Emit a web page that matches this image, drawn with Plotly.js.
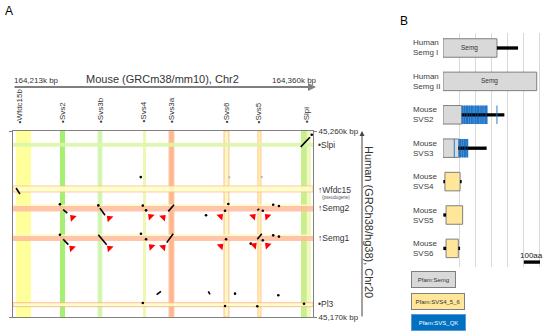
<!DOCTYPE html>
<html><head><meta charset="utf-8">
<script src="https://cdn.plot.ly/plotly-3.0.1.min.js"></script>
<style>html,body{margin:0;padding:0;background:#fff}#chart{width:550px;height:336px}</style>
</head><body><div id="chart"></div>
<script>
// ================= Panel A : dot plot, mouse Chr2 (kbp) vs human Chr20 (kbp) =================
const mouseRange = [164213, 164360];
const humanRange = [45170, 45260];
const mouseTickText = ['164,213k bp', '164,360k bp'];
const humanTickText = ['45,170k bp', '45,260k bp'];

const mouseGenes = ['Wfdc15b', 'Svs2', 'Svs3b', 'Svs4', 'Svs3a', 'Svs6', 'Svs5', 'Slpi'];
const mouseGenePos = [164216.4, 164237.2, 164255.6, 164276.7, 164290.4, 164317.7, 164333.5, 164356.6];
const humanGenes = ['Slpi', 'Wfdc15', 'Semg2', 'Semg1', 'Pl3'];
const humanGenePos = [45253.2, 45231.5, 45222.7, 45208.2, 45176.3];
const humanGeneMark = ['•', '↑', '↑', '↑', '•'];

// gene regions (bands)
const mouseBandStart = [164214.5, 164236.0, 164254.6, 164276.7, 164289.4, 164316.4, 164333.0, 164354.1, 164357.0];
const mouseBandEnd   = [164221.8, 164238.5, 164256.6, 164278.2, 164291.9, 164318.8, 164334.5, 164357.0, 164359.0];
const humanBandStart = [45252.4, 45230.5, 45221.1, 45223.7, 45206.8, 45209.2, 45175.0];
const humanBandEnd   = [45254.3, 45233.4, 45223.7, 45224.4, 45209.2, 45209.9, 45176.9];

// similarity hits: short diagonal runs
const hitX0 = [164214.5, 164237.6, 164255.6, 164289.1, 164354.0, 164237.6, 164254.8, 164288.3, 164283.4, 164308.7, 164332.7, 164332.7];
const hitY0 = [45232.4, 45221.9, 45222.7, 45221.1, 45252.3, 45207.6, 45209.8, 45206.0, 45180.8, 45182.4, 45221.6, 45207.6];
const hitX1 = [164216.4, 164239.6, 164258.1, 164291.9, 164358.5, 164240.1, 164258.9, 164291.5, 164285.5, 164309.5, 164333.7, 164334.9];
const hitY1 = [45229.5, 45220.3, 45219.2, 45224.3, 45257.0, 45205.0, 45205.0, 45210.3, 45182.4, 45181.0, 45222.3, 45210.3];
// isolated dots
const dotX = [164236.0, 164254.8, 164275.6, 164276.6, 164278.2, 164236.0, 164275.7, 164278.2, 164276.6, 164318.5, 164316.9, 164307.6, 164335.4, 164340.5, 164343.3, 164317.4, 164329.5, 164335.4, 164340.5, 164343.3, 164321.8, 164343.0, 164316.9, 164332.7, 164355.6, 164359.4];
const dotY = [45224.5, 45224.0, 45237.7, 45223.9, 45221.6, 45209.8, 45210.3, 45207.6, 45176.8, 45224.7, 45221.4, 45219.2, 45221.4, 45224.3, 45223.7, 45207.6, 45205.5, 45207.1, 45209.5, 45208.9, 45181.3, 45180.5, 45175.3, 45175.2, 45176.4, 45258.2];
const faintX = [164319.0, 164334.9];
const faintY = [45237.6, 45237.7];
// red arrowheads
const arrowX = [164242.2, 164260.2, 164280.4, 164286.6, 164314.7, 164330.7, 164337.6, 164241.8, 164260.3, 164280.8, 164286.6, 164314.8, 164331.2, 164337.7];
const arrowY = [45218.1, 45217.8, 45218.7, 45218.2, 45218.7, 45218.7, 45218.7, 45203.3, 45203.3, 45204.0, 45203.8, 45204.3, 45204.7, 45204.7];
const arrowAngle = [-45, -45, -45, 45, 45, 45, -45, -45, -45, -45, 45, 45, 45, -45];

// ================= Panel B : protein domain structure (aa) =================
const proteinRows = ['Human<br>Semg I', 'Human<br>Semg II', 'Mouse<br>SVS2', 'Mouse<br>SVS3', 'Mouse<br>SVS4', 'Mouse<br>SVS5', 'Mouse<br>SVS6'];
const semgRow = [0, 1, 2, 3];
const semgStart = [0, 0, 0, 0];
const semgEnd = [335, 582, 116, 97];
const svs456Row = [4, 5, 6];
const svs456Start = [12, 19, 19];
const svs456End = [106, 122, 95];
const qkRow = [2, 3];
const qkStart = [116, 97];
const qkEnd = [277, 157];
const tailRow = [0, 2, 3, 4, 4, 5, 6, 6];
const tailStart = [335, 116, 95, 2, 106, 2, 2, 95];
const tailEnd = [466, 381, 271, 12, 116, 19, 19, 106];
const qkRepeatRow = [2,2,2,2,2,2,2,2,2,2,2,2,2,2, 3,3,3,3,3,3];
const qkRepeatPos = [122,132,145,152,165,178,186,200,212,222,236,248,262,272, 101,110,120,132,142,150];
const qkSingleRow = [2, 3];
const qkSinglePos = [335, 70];
const scaleBarLen = 100;

// ---------------- helpers ----------------
const FONT = 'Liberation Sans, Arial, sans-serif';
const P = x => x / 550, Q = y => 1 - y / 336;
const BOXW = 0.554;

const traces = [];
// panel A traces
const hx = [], hy = [];
hitX0.forEach((x, i) => { hx.push(x, hitX1[i], null); hy.push(hitY0[i], hitY1[i], null); });
traces.push({type: 'scatter', mode: 'lines', x: hx, y: hy, line: {color: '#000', width: 1.6}, hoverinfo: 'skip'});
traces.push({type: 'scatter', mode: 'markers', x: dotX, y: dotY, marker: {color: '#000', size: 2.6}, hoverinfo: 'skip'});
traces.push({type: 'scatter', mode: 'markers', x: faintX, y: faintY, marker: {color: '#aaa', size: 2}, hoverinfo: 'skip'});
traces.push({type: 'scatter', mode: 'markers', x: arrowX, y: arrowY,
  marker: {color: '#ff0000', size: 7, symbol: 'triangle-up', angle: arrowAngle}, hoverinfo: 'skip'});

// panel B traces
function hbar(rows, starts, ends, color, lineColor, w) {
  return {type: 'bar', orientation: 'h', xaxis: 'x2', yaxis: 'y2', y: rows,
    base: starts, x: ends.map((e, i) => e - starts[i]), width: w,
    marker: {color: color, line: {color: lineColor || color, width: lineColor ? 1 : 0}}, hoverinfo: 'skip'};
}
traces.push(hbar(semgRow, semgStart, semgEnd, '#d9d9d9', '#7f7f7f', BOXW));
traces.push(hbar(svs456Row, svs456Start, svs456End, '#ffe699', '#7f7f7f', BOXW));
traces.push(hbar(qkRow, qkStart, qkEnd, '#3d8bd6', null, BOXW));
traces.push(hbar(tailRow, tailStart, tailEnd, '#000', null, 0.1));
traces.push(hbar(qkRepeatRow, qkRepeatPos.map(p => p - 1.6), qkRepeatPos.map(p => p + 1.6), '#0a5cb0', null, BOXW));
traces.push(hbar(qkSingleRow, qkSinglePos.map(p => p - 3), qkSinglePos.map(p => p + 3), '#1f78d1', null, BOXW));
traces.push(hbar([6.41], [502], [502 + scaleBarLen], '#000', null, 0.1));

// ---------------- shapes ----------------
const shapes = [];
const vFill = ['#ffff9c', '#a6ef72', '#cff5a8', '#eef8b0', '#ffb68e', '#fff7c0', '#fff2a8', '#c9ef8c', '#f0f8c0'];
const vEdge = [null, null, '#e2f8cc', null, '#ffd0b0', '#ffbe98', '#ffc898', null, null];
mouseBandStart.forEach((s, i) => shapes.push({type: 'rect', xref: 'x', yref: 'y', layer: 'below',
  x0: s, x1: mouseBandEnd[i], y0: humanRange[0], y1: humanRange[1], fillcolor: vFill[i],
  line: {width: vEdge[i] ? 1 : 0, color: vEdge[i] || vFill[i]}}));
const hFill = ['#dcf6a8', '#ffffc4', '#ffbc9e', '#fffbb8', '#ffbc9e', '#fffbb8', '#ffffc4'];
const hEdge = [null, '#ffc29c', null, null, null, null, '#ffb48c'];
humanBandStart.forEach((s, i) => shapes.push({type: 'rect', xref: 'x', yref: 'y', layer: 'below', opacity: 0.88,
  x0: mouseRange[0], x1: mouseRange[1], y0: s, y1: humanBandEnd[i], fillcolor: hFill[i],
  line: {width: hEdge[i] ? 1 : 0, color: hEdge[i] || hFill[i]}}));

// ---------------- annotations ----------------
const ann = [];
const txt = (x, y, text, size, opts) => Object.assign({xref: 'paper', yref: 'paper', x: x, y: y, text: text,
  xanchor: 'center', yanchor: 'middle',
  showarrow: false, font: {family: FONT, size: size, color: '#333'}}, opts || {});
ann.push(txt(P(8.5), Q(11.5), 'A', 12, {font: {family: FONT, size: 12, color: '#000'}}));
ann.push(txt(P(404), Q(21), 'B', 12, {font: {family: FONT, size: 12, color: '#000'}}));
// mouse axis
ann.push({xref: 'paper', yref: 'paper', x: P(316), y: Q(87), ax: -303, ay: 0, text: '', showarrow: true,
  xanchor: 'center', yanchor: 'middle',
  arrowhead: 2, arrowsize: 0.8, arrowwidth: 2, arrowcolor: '#7f7f7f'});
ann.push(txt(P(12), Q(80), mouseTickText[0], 8, {xanchor: 'left'}));
ann.push(txt(P(319), Q(80), mouseTickText[1], 8, {xanchor: 'right'}));
ann.push(txt(P(162.5), Q(79.5), 'Mouse (GRCm38/mm10), Chr2', 11));
mouseGenes.forEach((g, i) => ann.push({xref: 'x', yref: 'paper', x: mouseGenePos[i], y: Q(125),
  text: '•' + g, textangle: -90, xanchor: 'center', yanchor: 'bottom', showarrow: false,
  font: {family: FONT, size: 8, color: '#333'}}));
// human axis
ann.push({xref: 'paper', yref: 'paper', x: P(362), y: Q(131), ax: 0, ay: 187, text: '', showarrow: true,
  xanchor: 'center', yanchor: 'middle',
  arrowhead: 2, arrowsize: 1, arrowwidth: 1, arrowcolor: '#444'});
ann.push(txt(P(369), Q(222), 'Human (GRCh38/hg38), Chr20', 11, {textangle: 90}));
humanGenes.forEach((g, i) => ann.push({xref: 'paper', yref: 'y', x: P(316), y: humanGenePos[i], xanchor: 'left',
  yanchor: 'middle', text: humanGeneMark[i] + g, showarrow: false, font: {family: FONT, size: 8.5, color: '#333'}}));
ann.push({xref: 'paper', yref: 'y', x: P(320), y: 45227.8, xanchor: 'left', yanchor: 'middle', text: '(pseudogene)',
  showarrow: false, font: {family: FONT, size: 4.5, color: '#555'}});
// panel B labels
proteinRows.forEach((r, i) => ann.push({xref: 'paper', yref: 'y2', x: P(410.5), y: i, xanchor: 'left', yanchor: 'middle',
  align: 'left', text: r, showarrow: false, font: {family: FONT, size: 8, color: '#404040'}}));
ann.push({xref: 'x2', yref: 'y2', x: semgEnd[0] / 2, y: 0, text: 'Semg', showarrow: false, xanchor: 'center', yanchor: 'middle',
  font: {family: FONT, size: 6.5, color: '#333'}});
ann.push({xref: 'x2', yref: 'y2', x: semgEnd[1] / 2, y: 1, text: 'Semg', showarrow: false, xanchor: 'center', yanchor: 'middle',
  font: {family: FONT, size: 6.5, color: '#333'}});
ann.push({xref: 'x2', yref: 'y2', x: 552, y: 6.2, text: '100aa', showarrow: false, xanchor: 'center', yanchor: 'middle',
  font: {family: FONT, size: 8, color: '#222'}});
const legendBox = (cx, cy, w, text, bg, bd, fc) => ({xref: 'paper', yref: 'paper', x: P(cx), y: Q(cy), text: text,
  xanchor: 'center', yanchor: 'middle',
  showarrow: false, width: w, height: 13, borderpad: 1, borderwidth: 1, bgcolor: bg, bordercolor: bd,
  font: {family: FONT, size: 6, color: fc}});
ann.push(legendBox(433.4, 279.7, 41, 'Pfam:Semg', '#d9d9d9', '#7f7f7f', '#333'));
ann.push(legendBox(437.9, 301.2, 50, 'Pfam:SVS4_5_6', '#ffe699', '#7f7f7f', '#333'));
ann.push(legendBox(438.2, 322, 51, 'Pfam:SVS_QK', '#0070c0', '#5b9bd5', '#fff'));

const layout = {
  width: 550, height: 336, margin: {l: 0, r: 0, t: 0, b: 0},
  paper_bgcolor: '#fff', plot_bgcolor: '#fff', showlegend: false, barmode: 'overlay',
  font: {family: FONT},
  xaxis: {domain: [P(13), P(313)], range: mouseRange, showline: true, mirror: true, linecolor: '#808080', linewidth: 1,
    showgrid: false, zeroline: false, showticklabels: false, ticks: ''},
  yaxis: {domain: [Q(317), Q(131)], range: humanRange, side: 'right', showline: true, mirror: 'ticks', linecolor: '#808080',
    linewidth: 1, showgrid: false, zeroline: false, ticks: 'outside', ticklen: 3, tickcolor: '#808080',
    tickvals: humanRange, ticktext: humanTickText, tickfont: {family: FONT, size: 8, color: '#333'}},
  xaxis2: {domain: [P(443), P(548)], range: [0, 652], anchor: 'y2', showgrid: true, gridcolor: '#d9d9d9', gridwidth: 1,
    dtick: 100, tick0: 0, showticklabels: false, ticks: '', zeroline: false, showline: false},
  yaxis2: {domain: [Q(267), Q(33)], range: [6.557, -0.449], anchor: 'x2', showgrid: false, showticklabels: false,
    zeroline: false, showline: false, ticks: ''},
  shapes: shapes, annotations: ann
};
Plotly.newPlot('chart', traces, layout, {displayModeBar: false, staticPlot: true});
</script></body></html>
